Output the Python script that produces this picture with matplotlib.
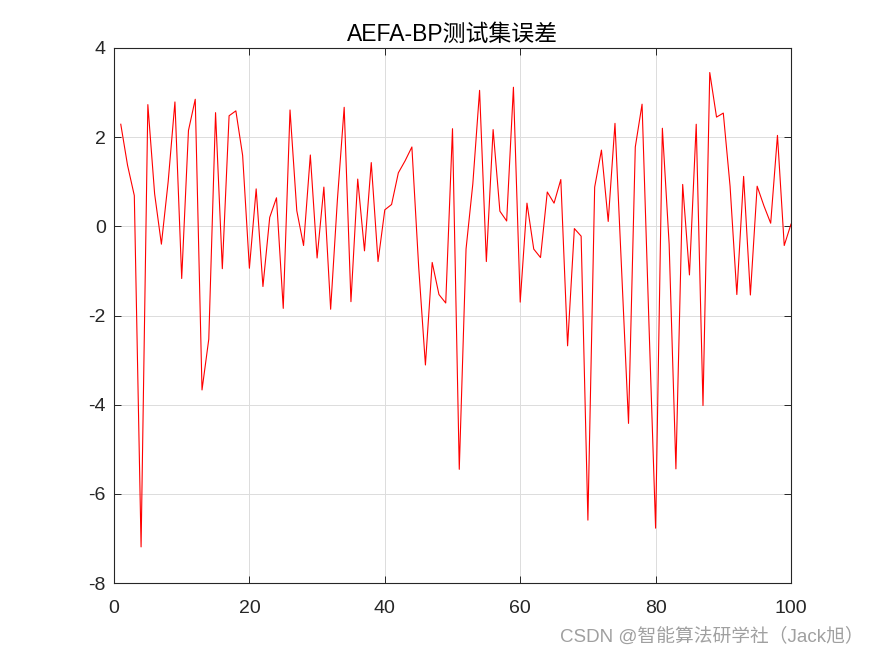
import matplotlib
matplotlib.use("Agg")
import matplotlib.pyplot as plt
import numpy as np

plt.rcParams['font.family'] = ['Liberation Sans', 'Noto Sans CJK SC', 'DejaVu Sans']
plt.rcParams['axes.unicode_minus'] = False

title = "AEFA-BP测试集误差"
watermark = "CSDN @智能算法研学社（Jack旭）"

sample_index = list(range(1, 101))
errors = [
    2.29, 1.37, 0.69, -7.19, 2.73, 0.73, -0.40, 1.00, 2.79, -1.17,
    2.15, 2.85, -3.67, -2.53, 2.55, -0.95, 2.48, 2.59, 1.59, -0.94,
    0.84, -1.35, 0.20, 0.64, -1.84, 2.61, 0.35, -0.43, 1.60, -0.71,
    0.88, -1.86, 0.60, 2.67, -1.69, 1.06, -0.55, 1.43, -0.79, 0.37,
    0.49, 1.20, 1.47, 1.78, -0.90, -3.11, -0.81, -1.53, -1.72, 2.19,
    -5.45, -0.51, 0.95, 3.05, -0.79, 2.17, 0.34, 0.12, 3.12, -1.70,
    0.52, -0.51, -0.70, 0.77, 0.52, 1.05, -2.68, -0.05, -0.22, -6.59,
    0.88, 1.71, 0.11, 2.31, -1.05, -4.42, 1.78, 2.74, -2.10, -6.77,
    2.20, -0.40, -5.44, 0.94, -1.09, 2.29, -4.02, 3.45, 2.45, 2.54,
    0.90, -1.53, 1.12, -1.54, 0.90, 0.46, 0.07, 2.04, -0.43, 0.05,
]

x_ticks = [0, 20, 40, 60, 80, 100]
y_ticks = [-8, -6, -4, -2, 0, 2, 4]

fig = plt.figure(figsize=(8.75, 6.56), dpi=100)
ax = fig.add_axes([114/875, 1-583/656, (791-114)/875, (583-48)/656])

ax.plot(sample_index, errors, color='red', linewidth=0.8)

ax.set_xlim(0, 100)
ax.set_ylim(-8, 4)
ax.set_xticks(x_ticks)
ax.set_yticks(y_ticks)
ax.grid(True, color='#dcdcdc', linewidth=0.7)
ax.set_axisbelow(True)

dark = '#262626'
for s in ax.spines.values():
    s.set_color(dark)
    s.set_linewidth(0.8)
ax.tick_params(direction='in', length=5, width=0.7, colors=dark,
               labelsize=14, top=True, right=True)
ax.tick_params(axis='y', pad=6)
ax.tick_params(axis='x', pad=12)
for lbl in ax.get_xticklabels() + ax.get_yticklabels():
    lbl.set_color(dark)

ax.set_title(title, fontsize=16.5, color='black', pad=5)

fig.text(864/875, 1-637/656, watermark, fontsize=13.5, color='#a0a0a0',
         ha='right', va='center')

fig.savefig('out.png', dpi=100)
